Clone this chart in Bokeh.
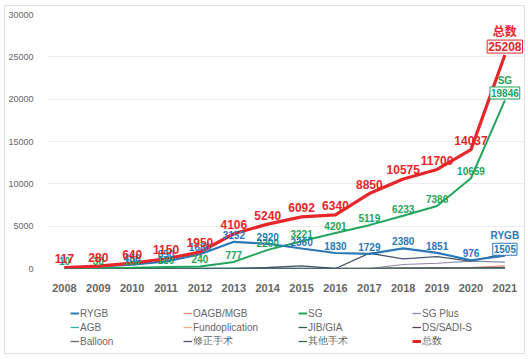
from bokeh.plotting import figure
from bokeh.layouts import column
from bokeh.models import Legend, LegendItem, FixedTicker, Range1d, ColumnDataSource
from bokeh.core.properties import value
from bokeh.embed import file_html
from bokeh.resources import INLINE

years = list(range(2008, 2022))
y_ticks = [0, 5000, 10000, 15000, 20000, 25000, 30000]

total = [117, 280, 640, 1150, 1950, 4106, 5240, 6092, 6340, 8850, 10575, 11700, 14037, 25208]
sg = [10, 30, 100, 180, 240, 777, 2200, 3221, 4201, 5119, 6233, 7386, 10659, 19846]
rygb = [100, 240, 450, 850, 1680, 3152, 2920, 2360, 1830, 1729, 2380, 1851, 976, 1505]
agb = [5, 10, 60, 80, 30, 60, 40, 30, 20, 20, 20, 20, 10, 20]
oagb = [0, 0, 0, 0, 0, 0, 0, 0, 0, 20, 50, 80, 100, 300]
fundo = [0, 0, 0, 0, 0, 0, 0, 0, 0, 10, 30, 60, 80, 180]
jib = [0, 0, 0, 0, 0, 0, 0, 0, 0, 0, 10, 20, 30, 50]
sg_plus = [0, 0, 0, 0, 0, 0, 0, 0, 0, 0, 470, 620, 860, 750]
ds_sadi = [0, 0, 0, 0, 0, 0, 0, 0, 0, 0, 20, 40, 60, 120]
balloon = [0, 0, 0, 0, 0, 0, 20, 30, 30, 30, 20, 20, 10, 10]
revision = [0, 0, 0, 0, 0, 0, 120, 300, 0, 1800, 1140, 1400, 860, 1770]
other = [0, 0, 0, 0, 0, 0, 0, 0, 0, 0, 10, 20, 30, 40]

legend_columns = [
    ["RYGB", "AGB", "Balloon"],
    ["OAGB/MGB", "Fundoplication", "修正手术"],
    ["SG", "JIB/GIA", "其他手术"],
    ["SG Plus", "DS/SADI-S", "总数"],
]

RED = "#e8262a"
GREEN = "#22a55a"
BLUE = "#2a78b8"
FONT = "Liberation Sans"

p = figure(width=519, height=289, output_backend="svg", toolbar_location=None,
           x_range=Range1d(2007.5, 2021.58), y_range=Range1d(0, 30000),
           min_border_left=35, min_border_right=0, min_border_top=8, min_border_bottom=27)
p.outline_line_color = None
p.xgrid.grid_line_color = None
p.ygrid.grid_line_color = "#ececec"
p.ygrid.ticker = FixedTicker(ticks=y_ticks)

p.yaxis.ticker = FixedTicker(ticks=y_ticks)
p.yaxis.axis_line_color = None
p.yaxis.major_tick_line_color = None
p.yaxis.minor_tick_line_color = None
p.yaxis.major_label_text_font = FONT
p.yaxis.major_label_text_font_size = "9px"
p.yaxis.major_label_text_color = "#666666"
p.yaxis.major_label_standoff = 8

p.xaxis.ticker = FixedTicker(ticks=years)
p.xaxis.axis_line_color = None
p.xaxis.major_tick_line_color = None
p.xaxis.minor_tick_line_color = None
p.xaxis.major_label_text_font = FONT
p.xaxis.major_label_text_font_size = "11px"
p.xaxis.major_label_text_font_style = "bold"
p.xaxis.major_label_text_color = "#666666"
p.xaxis.major_label_standoff = 9

series = {
    "AGB": (agb, "#2bb3b0", 1.2),
    "OAGB/MGB": (oagb, "#e0887a", 1.2),
    "Fundoplication": (fundo, "#f4b183", 1.2),
    "JIB/GIA": (jib, "#2f5f4f", 1.2),
    "SG Plus": (sg_plus, "#8a88a8", 1.2),
    "DS/SADI-S": (ds_sadi, "#5a3a5a", 1.2),
    "Balloon": (balloon, "#666666", 1.2),
    "修正手术": (revision, "#46566a", 1.3),
    "其他手术": (other, "#2e6a6a", 1.2),
    "SG": (sg, GREEN, 2.0),
    "RYGB": (rygb, BLUE, 2.2),
    "总数": (total, RED, 3.2),
}

for name, (vals, col, lw) in series.items():
    p.line(years, vals, line_color=col, line_width=lw)

# per-year data labels (2008-2020)
src_total = ColumnDataSource(dict(x=years[:-1], y=total[:-1], t=[str(v) for v in total[:-1]]))
src_sg = ColumnDataSource(dict(x=years[:-1], y=sg[:-1], t=[str(v) for v in sg[:-1]]))
src_rygb = ColumnDataSource(dict(x=years[2:-1], y=rygb[2:-1], t=[str(v) for v in rygb[2:-1]]))

p.text(x="x", y="y", text="t", source=src_sg, text_color=GREEN, text_font=value(FONT),
       text_font_style="bold", text_font_size="10px", text_align="center",
       text_baseline="middle", y_offset=-7)
p.text(x="x", y="y", text="t", source=src_rygb, text_color=BLUE, text_font=value(FONT),
       text_font_style="bold", text_font_size="10px", text_align="center",
       text_baseline="middle", y_offset=-7)
p.text(x="x", y="y", text="t", source=src_total, text_color=RED, text_font=value(FONT),
       text_font_style="bold", text_font_size="12px", text_align="center",
       text_baseline="middle", y_offset=-9)

# boxed end labels
def end_label(vals, name, col, size, head_font, box_off, head_off):
    p.text(x=[years[-1]], y=[vals[-1]], text=[str(vals[-1])], text_color=col,
           text_font=value(FONT), text_font_style="bold", text_font_size=size,
           text_align="center", text_baseline="middle", y_offset=box_off,
           background_fill_color="white", border_line_color=col, border_line_width=1,
           padding=[1, 2])
    p.text(x=[years[-1]], y=[vals[-1]], text=[name], text_color=col,
           text_font=value(head_font), text_font_style="bold", text_font_size=size,
           text_align="center", text_baseline="middle", y_offset=head_off)

end_label(total, "总数", RED, "12px", "Noto Sans CJK SC", -8.5, -24.5)
end_label(sg, "SG", GREEN, "10px", FONT, -7.5, -20)
end_label(rygb, "RYGB", BLUE, "10px", FONT, -6.5, -20)

# legend strip below the chart: four columns of three items
lg = figure(width=519, height=58, output_backend="svg", toolbar_location=None,
            x_range=Range1d(0, 1), y_range=Range1d(0, 1),
            x_axis_location=None, y_axis_location=None,
            min_border_left=0, min_border_right=0, min_border_top=0, min_border_bottom=0)
lg.grid.visible = False
lg.outline_line_color = None

col_x = [23, 136, 251, 365]
for cx, names in zip(col_x, legend_columns):
    items = []
    for n in names:
        vals, col, lw = series[n]
        # proxy line: same data, lies outside this strip's ranges so only the legend glyph shows
        r = lg.line(years, vals, line_color=col,
                    line_width=3 if n == "总数" else (2 if n in ("RYGB", "SG") else 1.3))
        items.append(LegendItem(label=n, renderers=[r]))
    leg = Legend(items=items, location=(cx, 5))
    leg.label_text_font = FONT
    leg.label_text_font_size = "10px"
    leg.label_text_color = "#666666"
    leg.glyph_width = 9
    leg.glyph_height = 14
    leg.label_height = 14
    leg.label_standoff = 1
    leg.spacing = 0
    leg.padding = 0
    leg.margin = 0
    leg.border_line_color = None
    leg.background_fill_alpha = 0
    lg.add_layout(leg, "center")

layout = column(p, lg, spacing=0,
                styles={"border": "1px solid #e0e0e0", "margin": "5px 0 0 4px"})
open("out.html", "w").write(file_html(layout, INLINE))
